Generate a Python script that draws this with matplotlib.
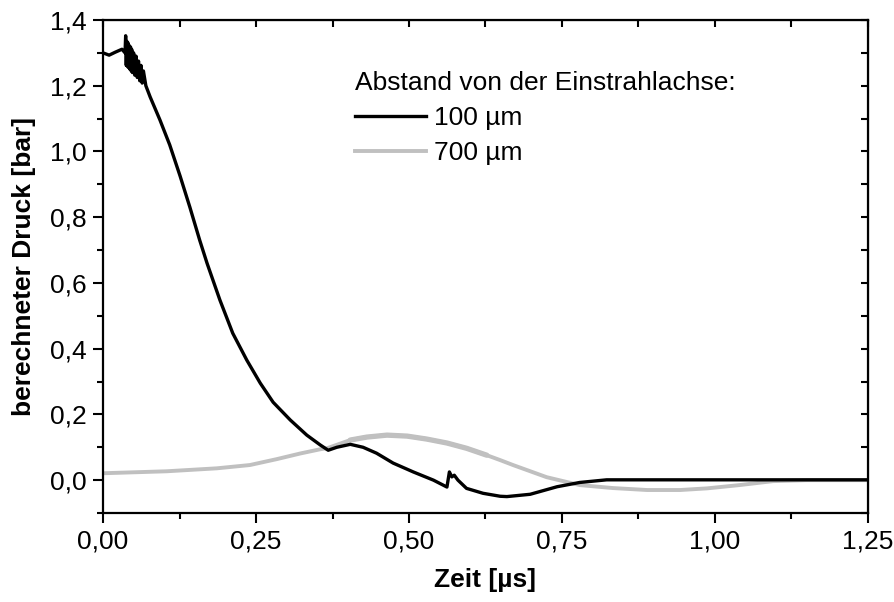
import matplotlib
matplotlib.use("Agg")
import matplotlib.pyplot as plt
from matplotlib.ticker import MultipleLocator, FuncFormatter

# Daten
t_100 = [0.000, 0.010, 0.020, 0.031, 0.036, 0.037, 0.038, 0.039, 0.040, 0.041,
         0.042, 0.043, 0.044, 0.045, 0.046, 0.047, 0.048, 0.050, 0.052, 0.054,
         0.056, 0.058, 0.060, 0.062, 0.064, 0.066, 0.070, 0.077, 0.093, 0.109,
         0.126, 0.142, 0.158, 0.170, 0.191, 0.212, 0.235, 0.257, 0.278, 0.306,
         0.333, 0.355, 0.368, 0.382, 0.404, 0.425, 0.447, 0.474, 0.507, 0.540,
         0.562, 0.566, 0.570, 0.574, 0.580, 0.594, 0.621, 0.649, 0.660, 0.698,
         0.742, 0.779, 0.823, 1.250]
p_100 = [1.300, 1.293, 1.302, 1.311, 1.300, 1.352, 1.262, 1.335, 1.258, 1.330,
         1.255, 1.322, 1.250, 1.318, 1.245, 1.310, 1.240, 1.300, 1.232, 1.290,
         1.225, 1.275, 1.215, 1.262, 1.208, 1.245, 1.200, 1.166, 1.096, 1.020,
         0.925, 0.830, 0.730, 0.660, 0.548, 0.447, 0.365, 0.295, 0.237, 0.183,
         0.137, 0.107, 0.091, 0.100, 0.109, 0.100, 0.082, 0.052, 0.025, 0.000,
         -0.021, 0.025, 0.010, 0.015, 0.000, -0.025, -0.040, -0.049, -0.050, -0.043,
         -0.020, -0.007, 0.001, 0.001]

t_700 = [0.000, 0.104, 0.186, 0.240, 0.284, 0.322, 0.355, 0.366, 0.404, 0.431,
         0.464, 0.497, 0.529, 0.562, 0.594, 0.627, 0.649, 0.670, 0.725, 0.779,
         0.833, 0.889, 0.943, 0.987, 1.040, 1.095, 1.150, 1.250]
p_700 = [0.021, 0.027, 0.036, 0.046, 0.064, 0.081, 0.094, 0.097, 0.122, 0.131,
         0.137, 0.134, 0.125, 0.113, 0.097, 0.076, 0.061, 0.046, 0.009, -0.015,
         -0.024, -0.030, -0.030, -0.025, -0.015, -0.003, 0.000, 0.000]

labels = ["100 µm", "700 µm"]
legend_title = "Abstand von der Einstrahlachse:"

plt.rcParams['font.family'] = ['Liberation Sans', 'DejaVu Sans']

fig = plt.figure(figsize=(8.95, 6.02), dpi=100)
ax = fig.add_axes([0.1151, 0.1478, 0.8547, 0.8190])

ax.plot(t_700, p_700, color='#c0c0c0', lw=2.8, label=labels[1], zorder=2)
# verrauschter Mittelteil etwas breiter
ax.plot(t_700[8:16], p_700[8:16], color='#c0c0c0', lw=3.8, zorder=2,
        solid_capstyle='round')
ax.plot(t_100, p_100, color='black', lw=2.4, label=labels[0], zorder=3)

ax.set_xlim(0, 1.25)
ax.set_ylim(-0.1, 1.4)

komma = lambda nd: FuncFormatter(lambda v, pos: f"{v:.{nd}f}".replace('.', ','))
ax.xaxis.set_major_locator(MultipleLocator(0.25))
ax.xaxis.set_minor_locator(MultipleLocator(0.125))
ax.yaxis.set_major_locator(MultipleLocator(0.2))
ax.yaxis.set_minor_locator(MultipleLocator(0.1))
ax.xaxis.set_major_formatter(komma(2))
ax.yaxis.set_major_formatter(komma(1))

ax.tick_params(which='major', direction='out', length=7, width=1.5, labelsize=19, pad=5)
ax.tick_params(which='minor', direction='out', length=4, width=1.5)
for s in ax.spines.values():
    s.set_linewidth(1.6)

# Spiegelachsen oben/rechts mit Ticks nach innen
top = ax.secondary_xaxis('top')
top.xaxis.set_major_locator(MultipleLocator(0.25))
top.xaxis.set_minor_locator(MultipleLocator(0.125))
top.tick_params(which='both', direction='in', length=5, width=1.5, labeltop=False)
right = ax.secondary_yaxis('right')
right.yaxis.set_major_locator(MultipleLocator(0.2))
right.yaxis.set_minor_locator(MultipleLocator(0.1))
right.tick_params(which='both', direction='in', length=5, width=1.5, labelright=False)

ax.set_xlabel('Zeit [µs]', fontsize=19, fontweight='bold', labelpad=10)
ax.set_ylabel('berechneter Druck [bar]', fontsize=19, fontweight='bold', labelpad=10)

h, l = ax.get_legend_handles_labels()
leg = ax.legend(h[::-1], l[::-1], title=legend_title, loc='upper left',
                bbox_to_anchor=(0.329, 0.897), frameon=False, fontsize=19,
                title_fontsize=19, handlelength=2.7, handletextpad=0.3,
                labelspacing=0.42, borderaxespad=0, borderpad=0)
leg._legend_box.align = 'left'
leg._legend_box.sep = 8

fig.savefig('out.png', dpi=100)
